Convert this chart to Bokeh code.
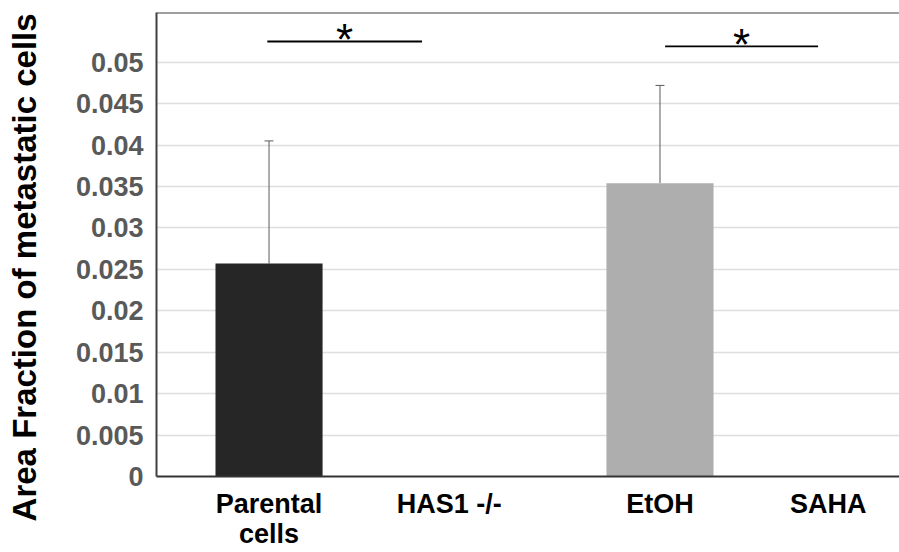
from bokeh.plotting import figure
from bokeh.models import ColumnDataSource, FixedTicker, Whisker, TeeHead, Span, Range1d
from bokeh.core.properties import value
from bokeh.embed import file_html
from bokeh.resources import INLINE

# ---- data ----
categories = ["Parental\ncells", "HAS1 -/-", "EtOH", "SAHA"]
cat_pos = [1.0, 2.06, 3.30, 4.29]
values = [0.0257, 0.0, 0.0354, 0.0]
errors = [0.0148, 0.0, 0.0118, 0.0]
bar_colors = ["#262626", "#262626", "#aeaeae", "#aeaeae"]
y_ticks = [0.0, 0.005, 0.01, 0.015, 0.02, 0.025, 0.03, 0.035, 0.04, 0.045, 0.05]
y_tick_labels = ["0", "0.005", "0.01", "0.015", "0.02", "0.025", "0.03", "0.035", "0.04", "0.045", "0.05"]
sig_x0 = [0.99, 3.33]
sig_x1 = [1.90, 4.23]
sig_y = [0.0525, 0.0519]
sig_text = ["*", "*"]
y_title = "Area Fraction of metastatic cells"
y_max = 0.056
x_min, x_max = 0.338, 4.709

FONT = "Liberation Sans"

p = figure(width=899, height=552, output_backend="svg", toolbar_location=None,
           x_range=Range1d(x_min, x_max), y_range=Range1d(0, y_max),
           min_border_left=156, min_border_right=0, min_border_top=12, min_border_bottom=76)
p.outline_line_color = None
p.background_fill_color = "white"

bars = ColumnDataSource(dict(x=cat_pos, top=values, color=bar_colors))
p.vbar(x="x", top="top", width=0.63, color="color", line_color=None, source=bars)

ex = [x for x, e in zip(cat_pos, errors) if e > 0]
ev = [v for v, e in zip(values, errors) if e > 0]
eu = [v + e for v, e in zip(values, errors) if e > 0]
err_src = ColumnDataSource(dict(x=ex, lower=ev, upper=eu))
w = Whisker(base="x", lower="lower", upper="upper", dimension="height", source=err_src,
            line_color="#5a5a5a", line_width=1,
            upper_head=TeeHead(size=9, line_color="#5a5a5a", line_width=1), lower_head=None)
p.add_layout(w)

p.segment(x0=sig_x0, y0=sig_y, x1=sig_x1, y1=sig_y, line_color="black", line_width=1.8)
mids = [(a + b) / 2 for a, b in zip(sig_x0, sig_x1)]
p.text(x=mids, y=sig_y, text=sig_text, text_font=value(FONT), text_font_size="44px",
       text_align="center", text_baseline="middle", text_color="black", y_offset=-2)

p.add_layout(Span(location=y_max, dimension="width", line_color="#404040", line_width=2))

# axes
p.yaxis.ticker = FixedTicker(ticks=y_ticks)
p.yaxis.major_label_overrides = dict(zip(y_ticks, y_tick_labels))
p.yaxis.major_tick_line_color = None
p.yaxis.minor_tick_line_color = None
p.yaxis.axis_line_color = "#404040"
p.yaxis.axis_line_width = 2
p.yaxis.major_label_text_font = FONT
p.yaxis.major_label_text_font_size = "27px"
p.yaxis.major_label_text_font_style = "bold"
p.yaxis.major_label_text_color = "#595959"
p.yaxis.major_label_standoff = 7
# trailing no-break spaces shift the centred title towards the bottom, as in the reference
p.yaxis.axis_label = y_title + "\u00a0" * 5
p.yaxis.axis_label_text_font = FONT
p.yaxis.axis_label_text_font_size = "33px"
p.yaxis.axis_label_text_font_style = "bold"
p.yaxis.axis_label_text_color = "black"
p.yaxis.axis_label_standoff = 30

p.xaxis.ticker = FixedTicker(ticks=cat_pos)
p.xaxis.major_label_overrides = dict(zip(cat_pos, categories))
p.xaxis.major_tick_line_color = None
p.xaxis.minor_tick_line_color = None
p.xaxis.axis_line_color = "#333333"
p.xaxis.axis_line_width = 2
p.xaxis.major_label_text_font = FONT
p.xaxis.major_label_text_font_size = "27px"
p.xaxis.major_label_text_font_style = "bold"
p.xaxis.major_label_text_color = "black"
p.xaxis.major_label_text_line_height = 1.0
p.xaxis.major_label_standoff = 6

p.xgrid.grid_line_color = None
p.ygrid.ticker = FixedTicker(ticks=y_ticks)
p.ygrid.grid_line_color = "#dedede"
p.ygrid.grid_line_width = 1.5

open("out.html", "w").write(file_html(p, INLINE))
